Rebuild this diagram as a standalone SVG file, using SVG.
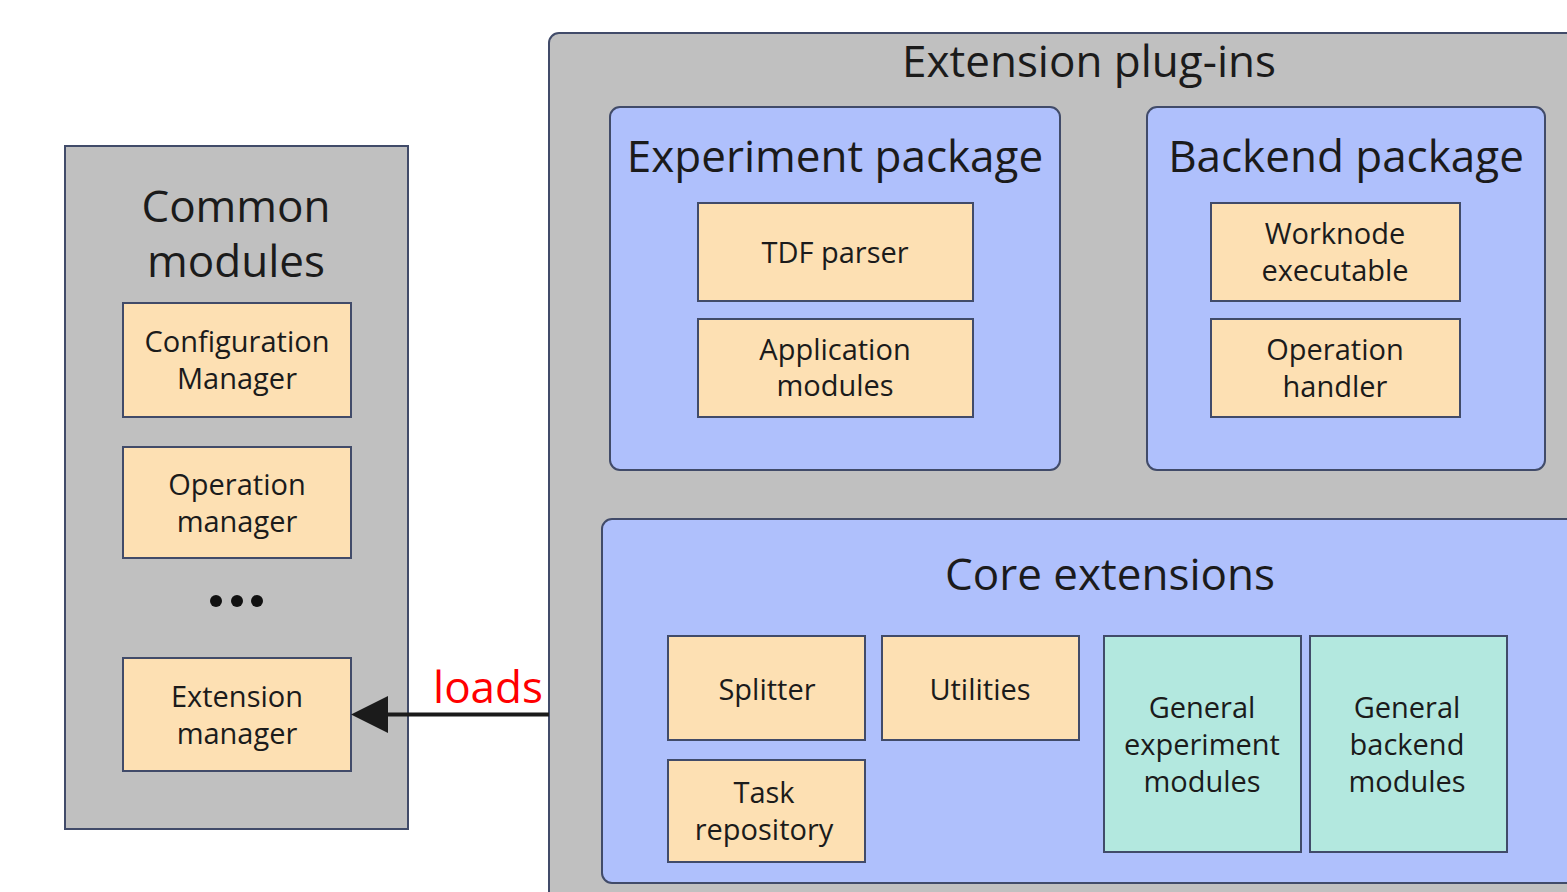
<svg xmlns="http://www.w3.org/2000/svg" width="1567" height="892" viewBox="0 0 1567 892">
<style>
text{font-family:"Open Sans","Noto Sans","Liberation Sans",sans-serif;fill:#1b1b1b;text-anchor:middle}
.grey{fill:#c0c0c0;stroke:#414b69;stroke-width:2}
.blue{fill:#afc0fc;stroke:#414b69;stroke-width:2}
.org{fill:#fde0b3;stroke:#414b69;stroke-width:2}
.teal{fill:#b3e8df;stroke:#414b69;stroke-width:2}
.title{font-size:44px}
.lbl{font-size:29px}
</style>
<defs>
<marker id="ah" markerUnits="userSpaceOnUse" markerWidth="37" markerHeight="37" refX="0" refY="18.5" orient="auto" viewBox="0 0 37 37">
<path d="M37,18.5 L0,0 L0,37 Z" fill="#1b1b1b"/>
</marker>
</defs>
<rect width="1567" height="892" fill="#ffffff"/>

<g id="common-modules">
<rect class="grey" x="65" y="146" width="343" height="683"/>
<text class="title" x="236" y="222">Common</text>
<text class="title" x="236" y="277">modules</text>
</g>
<g id="configuration-manager">
<rect class="org" x="123" y="303" width="228" height="114"/>
<text class="lbl" x="237" y="352">Configuration</text>
<text class="lbl" x="237" y="389">Manager</text>
</g>
<g id="operation-manager">
<rect class="org" x="123" y="447" width="228" height="111"/>
<text class="lbl" x="237" y="495">Operation</text>
<text class="lbl" x="237" y="532">manager</text>
</g>
<g id="ellipsis">
<circle cx="216" cy="601" r="6" fill="#111"/>
<circle cx="237" cy="601" r="6" fill="#111"/>
<circle cx="257" cy="601" r="6" fill="#111"/>
</g>
<g id="extension-manager">
<rect class="org" x="123" y="658" width="228" height="113"/>
<text class="lbl" x="237" y="707">Extension</text>
<text class="lbl" x="237" y="744">manager</text>
</g>

<g id="extension-plugins">
<rect class="grey" x="549" y="33" width="1060" height="900" rx="10"/>
<text class="title" x="1089" y="77">Extension plug-ins</text>
</g>

<g id="experiment-package">
<rect class="blue" x="610" y="107" width="450" height="363" rx="10"/>
<text class="title" x="835" y="172">Experiment package</text>
</g>
<g id="tdf-parser">
<rect class="org" x="698" y="203" width="275" height="98"/>
<text class="lbl" x="835" y="263">TDF parser</text>
</g>
<g id="application-modules">
<rect class="org" x="698" y="319" width="275" height="98"/>
<text class="lbl" x="835" y="360">Application</text>
<text class="lbl" x="835" y="396">modules</text>
</g>

<g id="backend-package">
<rect class="blue" x="1147" y="107" width="398" height="363" rx="10"/>
<text class="title" x="1346" y="172">Backend package</text>
</g>
<g id="worknode-executable">
<rect class="org" x="1211" y="203" width="249" height="98"/>
<text class="lbl" x="1335" y="244">Worknode</text>
<text class="lbl" x="1335" y="281">executable</text>
</g>
<g id="operation-handler">
<rect class="org" x="1211" y="319" width="249" height="98"/>
<text class="lbl" x="1335" y="360">Operation</text>
<text class="lbl" x="1335" y="397">handler</text>
</g>

<g id="core-extensions">
<rect class="blue" x="602" y="519" width="1010" height="364" rx="10"/>
<text class="title" x="1110" y="590">Core extensions</text>
</g>
<g id="splitter">
<rect class="org" x="668" y="636" width="197" height="104"/>
<text class="lbl" x="767" y="700">Splitter</text>
</g>
<g id="utilities">
<rect class="org" x="882" y="636" width="197" height="104"/>
<text class="lbl" x="980" y="700">Utilities</text>
</g>
<g id="task-repository">
<rect class="org" x="668" y="760" width="197" height="102"/>
<text class="lbl" x="764" y="803">Task</text>
<text class="lbl" x="764" y="840">repository</text>
</g>
<g id="general-experiment-modules">
<rect class="teal" x="1104" y="636" width="197" height="216"/>
<text class="lbl" x="1202" y="718">General</text>
<text class="lbl" x="1202" y="755">experiment</text>
<text class="lbl" x="1202" y="792">modules</text>
</g>
<g id="general-backend-modules">
<rect class="teal" x="1310" y="636" width="197" height="216"/>
<text class="lbl" x="1407" y="718">General</text>
<text class="lbl" x="1407" y="755">backend</text>
<text class="lbl" x="1407" y="792">modules</text>
</g>

<g id="connectors">
<line x1="549" y1="714.5" x2="388" y2="714.5" stroke="#1b1b1b" stroke-width="4" marker-end="url(#ah)"/>
<text x="488" y="703" font-size="44" style="fill:#ff0000">loads</text>
</g>
</svg>
